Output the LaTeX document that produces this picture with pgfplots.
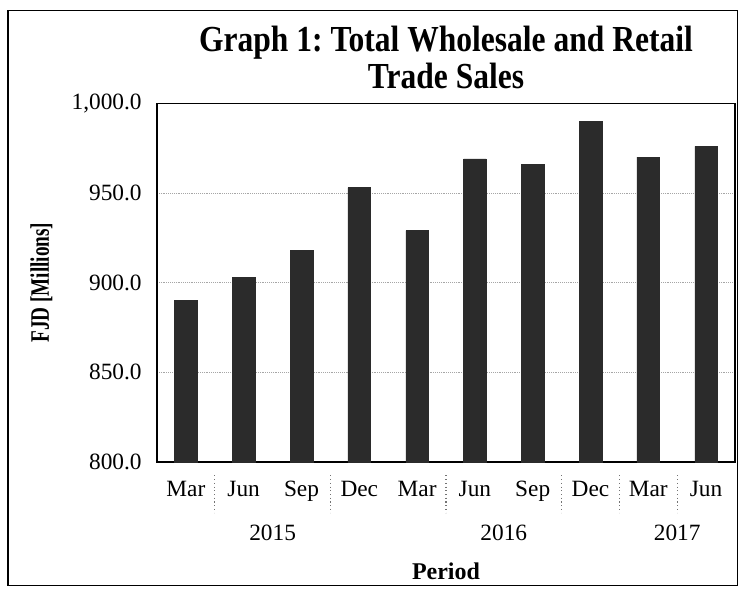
\documentclass[border=0pt]{standalone}
\usepackage{pgfplots}
\pgfplotsset{compat=1.18}
\usepackage{fontspec}
\setmainfont{Liberation Serif}
\newfontfamily\condensed[FakeStretch=0.72]{Liberation Serif}
\newfontfamily\titlefont[FakeStretch=0.86]{Liberation Serif}
\definecolor{barcol}{HTML}{2B2B2B}
\frenchspacing
\begin{document}
\begin{tikzpicture}
\path[use as bounding box] (0,0) rectangle (556.5pt,-443.25pt);
\draw[line width=1pt] (6pt,-8pt) rectangle (553pt,-439pt);
\begin{axis}[
  at={(117.75pt,-346.5pt)}, anchor=south west,
  scale only axis, width=433.5pt, height=269pt,
  ymin=800, ymax=1000,
  xmin=-0.5, xmax=9.5,
  ytick={800,850,...,1000},
  ymajorgrids, grid style={densely dotted, gray!70},
  xtick=data,
  xticklabels={Mar,Jun,Sep,Dec,Mar,Jun,Sep,Dec,Mar,Jun},
  major tick length=0pt,
  axis line style={line width=1.2pt},
  tick label style={font=\fontsize{17.5}{20}\selectfont},
  /pgf/number format/assume math mode=true,
  yticklabel={\pgfmathprintnumber[fixed,fixed zerofill,precision=1,1000 sep={,}]{\tick}},
  yticklabel style={xshift=-8pt},
  xticklabel style={yshift=-11pt},
  title={\textbf{Graph 1: Total Wholesale and Retail}\\\textbf{Trade Sales}},
  title style={align=center, font=\titlefont\fontsize{27.5}{28}\selectfont, at={(0.5,1)}, anchor=south, yshift=1pt},
  clip=false,
]
\addplot[ybar, bar width=17pt, fill=barcol, draw=barcol] coordinates {
(0,890) (1,903) (2,918) (3,953) (4,929) (5,969) (6,966) (7,990) (8,970) (9,976)
};
\pgfplotsinvokeforeach{0.5,2.5,4.5,6.5,7.5,8.5}{
  \draw[dotted, black!55, line width=0.8pt] ([yshift=-10pt]axis cs:#1,800) -- ([yshift=-38pt]axis cs:#1,800);
}
\node[font=\fontsize{17.5}{20}\selectfont] at (axis cs:1.5,800) [yshift=-53pt] {2015};
\node[font=\fontsize{17.5}{20}\selectfont] at (axis cs:5.5,800) [yshift=-53pt] {2016};
\node[font=\fontsize{17.5}{20}\selectfont] at (axis cs:8.5,800) [yshift=-53pt] {2017};
\node[font=\bfseries\fontsize{18}{20}\selectfont] at (axis cs:4.5,800) [yshift=-82pt] {Period};
\end{axis}
\node[rotate=90, font=\condensed\bfseries\fontsize{20}{22}\selectfont] at (31pt,-212pt) {FJD [Millions]};
\end{tikzpicture}
\end{document}
